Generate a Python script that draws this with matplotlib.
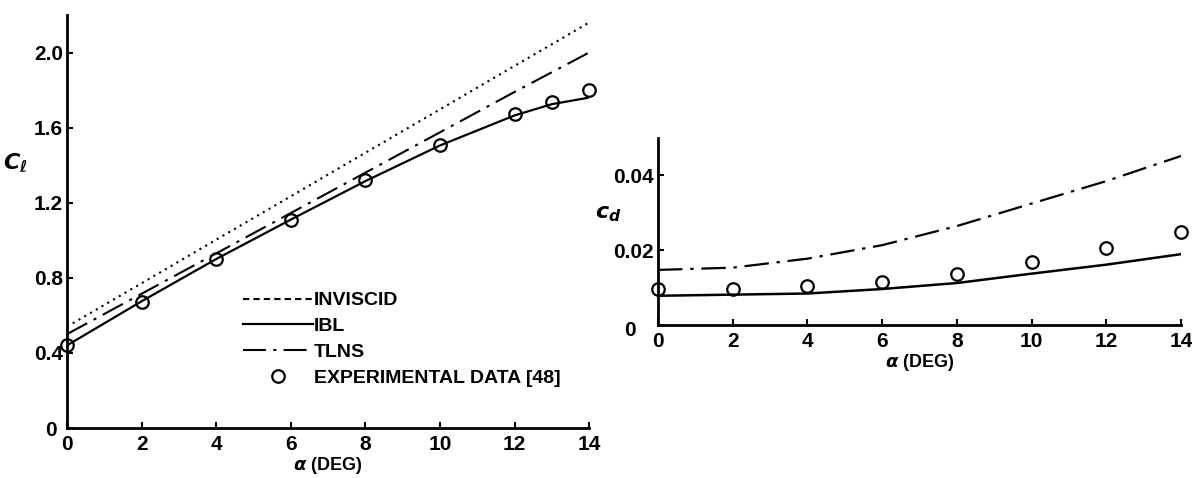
import numpy as np
from matplotlib import pyplot as plt
from matplotlib.lines import Line2D
from matplotlib.transforms import ScaledTranslation

plt.rcParams['font.family'] = ['Liberation Sans', 'DejaVu Sans']
plt.rcParams['font.weight'] = 'bold'
plt.rcParams['mathtext.fontset'] = 'dejavusans'

# lift coefficient vs angle of attack
alpha_cl = [0, 2, 4, 6, 8, 10, 12, 13, 14]
cl_inviscid = [0.54, 0.771, 1.003, 1.234, 1.466, 1.697, 1.929, 2.044, 2.16]
cl_tlns = [0.50, 0.715, 0.93, 1.145, 1.36, 1.575, 1.79, 1.895, 2.00]
cl_ibl = [0.44, 0.675, 0.90, 1.11, 1.315, 1.505, 1.665, 1.725, 1.76]
cl_exp = [0.44, 0.67, 0.90, 1.11, 1.32, 1.51, 1.675, 1.735, 1.80]

# drag coefficient vs angle of attack
alpha_cd = [0, 2, 4, 6, 8, 10, 12, 14]
cd_tlns = [0.0147, 0.0153, 0.0177, 0.0213, 0.0264, 0.0324, 0.0384, 0.0451]
cd_ibl = [0.0078, 0.0081, 0.0084, 0.0096, 0.0112, 0.0137, 0.0161, 0.0189]
cd_exp = [0.0096, 0.0096, 0.0105, 0.0116, 0.0135, 0.0168, 0.0206, 0.0249]

x_ticks = [0, 2, 4, 6, 8, 10, 12, 14]
cl_ticks = [0, 0.4, 0.8, 1.2, 1.6, 2.0]
cl_ticklabels = ['0', '0.4', '0.8', '1.2', '1.6', '2.0']
cd_ticks = [0, 0.02, 0.04]
cd_ticklabels = ['0', '0.02', '0.04']

dotted = (0, (1, 2.2))
dashdot = (0, (11, 3.5, 1.5, 3.5))
circ = dict(marker='o', markersize=9, markerfacecolor='none',
            markeredgecolor='black', markeredgewidth=1.6, linestyle='none',
            clip_on=False)

fig = plt.figure(figsize=(11.92, 4.78), dpi=100)
ax1 = fig.add_axes([0.0562, 0.1046, 0.438, 0.864])
ax2 = fig.add_axes([0.552, 0.3201, 0.4388, 0.392])


def style(ax):
    for s in ['top', 'right']:
        ax.spines[s].set_visible(False)
    for s in ['left', 'bottom']:
        ax.spines[s].set_linewidth(2)
    ax.tick_params(direction='in', length=4, width=1.5, labelsize=15)
    ax.tick_params(axis='y', pad=3)
    ax.tick_params(axis='x', pad=5)
    ax.set_xlim(0, 14)
    ax.set_xticks(x_ticks)
    ax.set_xlabel(r'$\alpha$ (DEG)', fontsize=13, fontweight='bold', labelpad=1)


def shift_zero(ax, dx, dy):
    # the "0" on the y axis sits a bit off from the other labels
    for lab in ax.get_yticklabels():
        if lab.get_text() == '0':
            lab.set_transform(lab.get_transform()
                              + ScaledTranslation(dx / 100, dy / 100, fig.dpi_scale_trans))


# left: lift
ax1.plot(alpha_cl, cl_inviscid, color='black', lw=1.5, linestyle=dotted)
ax1.plot(alpha_cl, cl_tlns, color='black', lw=1.5, linestyle=dashdot)
ax1.plot(alpha_cl, cl_ibl, color='black', lw=1.6)
ax1.plot(alpha_cl, cl_exp, **circ)
style(ax1)
ax1.set_ylim(0, 2.2)
ax1.set_yticks(cl_ticks)
ax1.set_yticklabels(cl_ticklabels)
ax1.set_ylabel(r'$C_\ell$', fontsize=16, rotation=0, va='center')
ax1.yaxis.set_label_coords(-0.10, 0.642)
shift_zero(ax1, -6, 0)

handles = [
    Line2D([], [], color='black', lw=1.5, linestyle=(0, (3, 2))),
    Line2D([], [], color='black', lw=1.6),
    Line2D([], [], color='black', lw=1.5, linestyle=dashdot),
    Line2D([], [], **circ),
]
labels = ['INVISCID', 'IBL', 'TLNS', 'EXPERIMENTAL DATA [48]']
ax1.legend(handles, labels, loc='upper left', bbox_to_anchor=(0.337, 0.33),
           frameon=False, borderaxespad=0, borderpad=0, handlelength=3.6,
           handletextpad=0.05, labelspacing=0.43,
           prop={'size': 14, 'weight': 'bold'})

# right: drag
ax2.plot(alpha_cd, cd_tlns, color='black', lw=1.6, linestyle=dashdot)
ax2.plot(alpha_cd, cd_ibl, color='black', lw=1.8)
ax2.plot(alpha_cd, cd_exp, **circ)
style(ax2)
ax2.set_ylim(0, 0.05)
ax2.set_yticks(cd_ticks)
ax2.set_yticklabels(cd_ticklabels)
ax2.set_ylabel(r'$c_d$', fontsize=16, rotation=0, va='center')
ax2.yaxis.set_label_coords(-0.096, 0.597)
shift_zero(ax2, -18, -4)

fig.savefig('out.png', dpi=100)
